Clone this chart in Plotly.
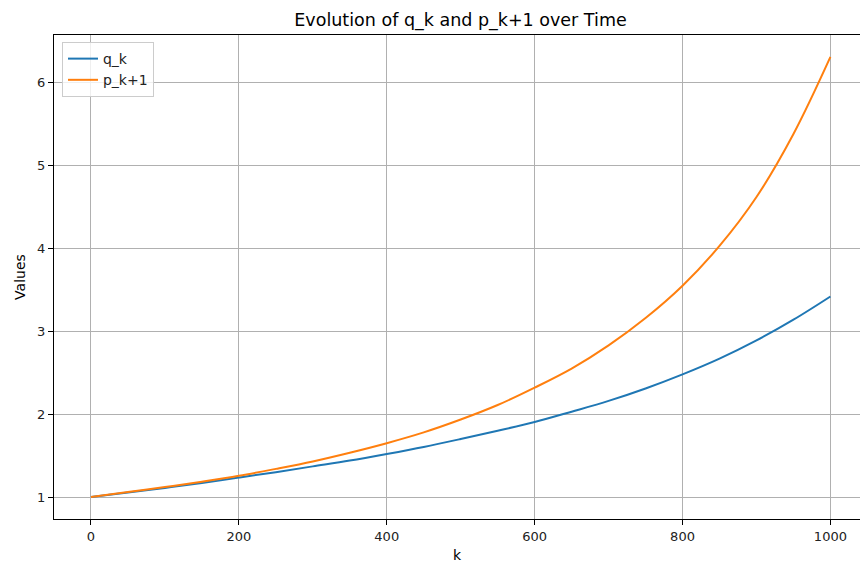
import plotly.graph_objects as go

k_vals = [0, 50, 100, 150, 200, 250, 300, 350, 400, 450, 500,
          550, 600, 650, 700, 750, 800, 850, 900, 950, 1000]
q_k = [1.00, 1.055, 1.11, 1.17, 1.235, 1.30, 1.37, 1.44, 1.52, 1.605, 1.70,
       1.80, 1.905, 2.03, 2.16, 2.31, 2.48, 2.67, 2.89, 3.14, 3.42]
p_k1 = [1.00, 1.06, 1.12, 1.185, 1.256, 1.34, 1.43, 1.535, 1.65, 1.78, 1.935,
        2.11, 2.32, 2.55, 2.83, 3.16, 3.55, 4.03, 4.62, 5.38, 6.31]

x_ticks = [0, 200, 400, 600, 800, 1000]
y_ticks = [1, 2, 3, 4, 5, 6]

font = "DejaVu Sans"

fig = go.Figure()
fig.add_trace(go.Scatter(x=k_vals, y=q_k, mode="lines", name="q_k",
                         line=dict(color="#1f77b4", width=2, shape="spline")))
fig.add_trace(go.Scatter(x=k_vals, y=p_k1, mode="lines", name="p_k+1",
                         line=dict(color="#ff7f0e", width=2, shape="spline")))

fig.update_layout(
    width=860, height=563,
    margin=dict(l=54, r=0, t=35, b=44),
    paper_bgcolor="white", plot_bgcolor="white",
    font=dict(family=font, size=13, color="#222"),
    title=dict(text="Evolution of q_k and p_k+1 over Time",
               x=(460.5 - 54) / 806, xref="paper", xanchor="center",
               y=1 - 20 / 563, yanchor="middle",
               font=dict(size=17.5, color="#000", family=font)),
    legend=dict(x=0.0099, y=0.9855, xanchor="left", yanchor="top",
                bgcolor="rgba(255,255,255,0.8)", bordercolor="#cccccc",
                borderwidth=1, font=dict(size=14, color="#222"),
                itemwidth=30, tracegroupgap=4),
    showlegend=True,
)
fig.update_xaxes(
    range=[-50, 1040], tickvals=x_ticks,
    showline=True, linecolor="#000", linewidth=1, mirror=True,
    ticks="outside", ticklen=5, tickcolor="#000",
    showgrid=True, gridcolor="#b0b0b0", gridwidth=1, zeroline=False,
    title=dict(text="k", font=dict(size=14, color="#000"), standoff=8),
)
fig.update_yaxes(
    range=[0.735, 6.575], tickvals=y_ticks,
    showline=True, linecolor="#000", linewidth=1, mirror=False,
    ticks="outside", ticklen=5, tickcolor="#000",
    showgrid=True, gridcolor="#b0b0b0", gridwidth=1, zeroline=False,
    title=dict(text="Values", font=dict(size=14, color="#000"), standoff=8),
)

fig.write_html("out.html")
